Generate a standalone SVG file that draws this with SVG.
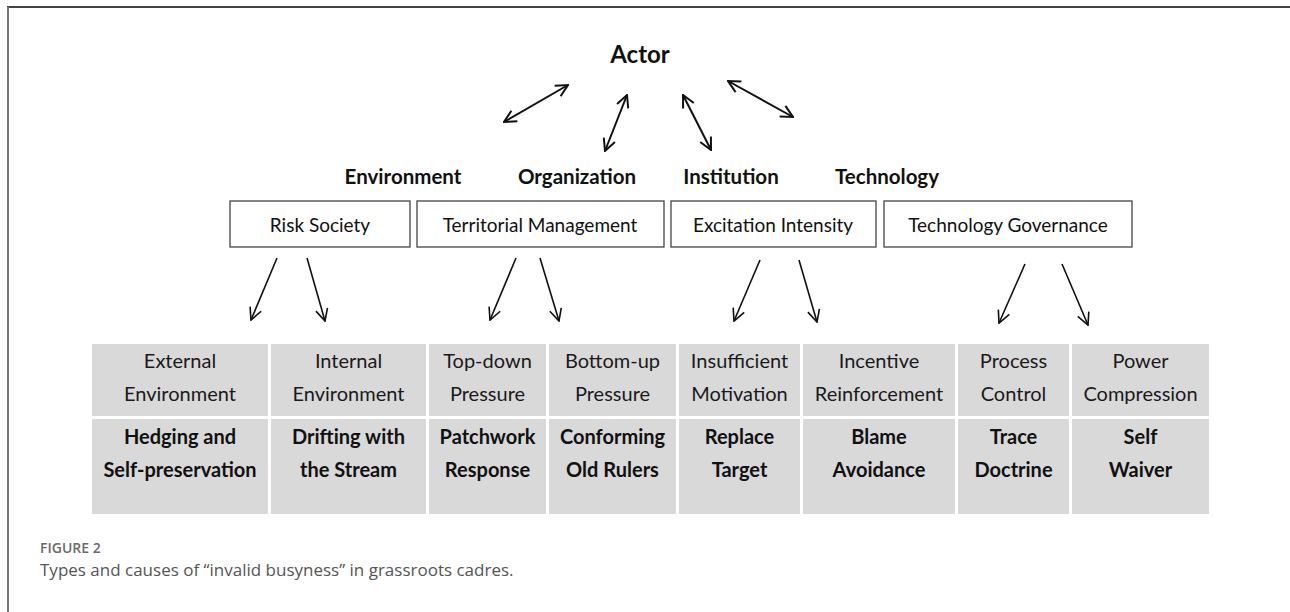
<svg xmlns="http://www.w3.org/2000/svg" width="1290" height="612" viewBox="0 0 1290 612">
<style>
.lbl{font-family:Lato,"Liberation Sans",sans-serif;fill:#111}
.b{font-weight:bold}
.box{fill:#fff;stroke:#444;stroke-width:1.3}
.cell{fill:#d9d9d9}
.t{font-family:Lato,"Liberation Sans",sans-serif;font-size:20px;fill:#1a1a1a;text-anchor:middle}
.tb{font-family:Lato,"Liberation Sans",sans-serif;font-size:20px;font-weight:bold;fill:#111;text-anchor:middle}
.con line{stroke:#111;fill:none}
.top line{stroke-width:2}
.down line{stroke-width:1.6}
.cap{font-family:"Open Sans","Liberation Sans",sans-serif}
</style>
<defs>
<marker id="ah" viewBox="0 0 14 14" refX="13" refY="7" markerWidth="14" markerHeight="14" markerUnits="userSpaceOnUse" orient="auto-start-reverse">
<path d="M1,1 L13,7 L1,13" fill="none" stroke="#111" stroke-width="2"/>
</marker>
<marker id="ah2" viewBox="0 0 14 14" refX="13" refY="7" markerWidth="14" markerHeight="14" markerUnits="userSpaceOnUse" orient="auto">
<path d="M1,1 L13,7 L1,13" fill="none" stroke="#111" stroke-width="1.6"/>
</marker>
</defs>
<rect width="1290" height="612" fill="#fff"/>
<line x1="7" y1="7" x2="1290" y2="7" stroke="#444" stroke-width="2"/>
<line x1="8" y1="7" x2="8" y2="612" stroke="#777" stroke-width="2"/>

<g id="actor"><text class="lbl b" x="640" y="63" font-size="24" text-anchor="middle">Actor</text></g>

<g id="dimension-labels" class="lbl b" font-size="20.5" text-anchor="middle">
<text x="403" y="184">Environment</text>
<text x="577" y="184">Organization</text>
<text x="731" y="184">Institution</text>
<text x="887" y="184">Technology</text>
</g>

<g id="risk-society"><rect class="box" x="230" y="201" width="180" height="46"/><text class="lbl" x="320" y="232" font-size="19" text-anchor="middle">Risk Society</text></g>
<g id="territorial-management"><rect class="box" x="417" y="201" width="247" height="46"/><text class="lbl" x="540" y="232" font-size="19" text-anchor="middle">Territorial Management</text></g>
<g id="excitation-intensity"><rect class="box" x="671" y="201" width="205" height="46"/><text class="lbl" x="773" y="232" font-size="19" text-anchor="middle">Excitation Intensity</text></g>
<g id="technology-governance"><rect class="box" x="884" y="201" width="248" height="46"/><text class="lbl" x="1008" y="232" font-size="19" text-anchor="middle">Technology Governance</text></g>

<g id="connectors" class="con">
<g class="top">
<line x1="504" y1="122" x2="568" y2="85" marker-start="url(#ah)" marker-end="url(#ah)"/>
<line x1="605" y1="151" x2="627" y2="95" marker-start="url(#ah)" marker-end="url(#ah)"/>
<line x1="683" y1="95" x2="711" y2="150" marker-start="url(#ah)" marker-end="url(#ah)"/>
<line x1="728" y1="81" x2="793" y2="117" marker-start="url(#ah)" marker-end="url(#ah)"/>
</g>
<g class="down">
<line x1="277" y1="258" x2="251" y2="320" marker-end="url(#ah2)"/>
<line x1="307" y1="258" x2="325" y2="321" marker-end="url(#ah2)"/>
<line x1="516" y1="258" x2="490" y2="320" marker-end="url(#ah2)"/>
<line x1="540" y1="258" x2="559" y2="321" marker-end="url(#ah2)"/>
<line x1="760" y1="260" x2="734" y2="321" marker-end="url(#ah2)"/>
<line x1="799" y1="260" x2="817" y2="322" marker-end="url(#ah2)"/>
<line x1="1025" y1="264" x2="999" y2="323" marker-end="url(#ah2)"/>
<line x1="1062" y1="264" x2="1088" y2="325" marker-end="url(#ah2)"/>
</g>
</g>

<g id="col-external">
<rect class="cell" x="92" y="344" width="176" height="72"/>
<rect class="cell" x="92" y="419" width="176" height="95"/>
<text class="t" x="180" y="368">External</text><text class="t" x="180" y="401">Environment</text>
<text class="tb" x="180" y="444">Hedging and</text><text class="tb" x="180" y="477">Self-preservation</text>
</g>
<g id="col-internal">
<rect class="cell" x="271" y="344" width="155" height="72"/>
<rect class="cell" x="271" y="419" width="155" height="95"/>
<text class="t" x="348.5" y="368">Internal</text><text class="t" x="348.5" y="401">Environment</text>
<text class="tb" x="348.5" y="444">Drifting with</text><text class="tb" x="348.5" y="477">the Stream</text>
</g>
<g id="col-topdown">
<rect class="cell" x="429" y="344" width="117" height="72"/>
<rect class="cell" x="429" y="419" width="117" height="95"/>
<text class="t" x="487.5" y="368">Top-down</text><text class="t" x="487.5" y="401">Pressure</text>
<text class="tb" x="487.5" y="444">Patchwork</text><text class="tb" x="487.5" y="477">Response</text>
</g>
<g id="col-bottomup">
<rect class="cell" x="549" y="344" width="127" height="72"/>
<rect class="cell" x="549" y="419" width="127" height="95"/>
<text class="t" x="612.5" y="368">Bottom-up</text><text class="t" x="612.5" y="401">Pressure</text>
<text class="tb" x="612.5" y="444">Conforming</text><text class="tb" x="612.5" y="477">Old Rulers</text>
</g>
<g id="col-insufficient">
<rect class="cell" x="679" y="344" width="121" height="72"/>
<rect class="cell" x="679" y="419" width="121" height="95"/>
<text class="t" x="739.5" y="368">Insufficient</text><text class="t" x="739.5" y="401">Motivation</text>
<text class="tb" x="739.5" y="444">Replace</text><text class="tb" x="739.5" y="477">Target</text>
</g>
<g id="col-incentive">
<rect class="cell" x="803" y="344" width="152" height="72"/>
<rect class="cell" x="803" y="419" width="152" height="95"/>
<text class="t" x="879" y="368">Incentive</text><text class="t" x="879" y="401">Reinforcement</text>
<text class="tb" x="879" y="444">Blame</text><text class="tb" x="879" y="477">Avoidance</text>
</g>
<g id="col-process">
<rect class="cell" x="958" y="344" width="111" height="72"/>
<rect class="cell" x="958" y="419" width="111" height="95"/>
<text class="t" x="1013.5" y="368">Process</text><text class="t" x="1013.5" y="401">Control</text>
<text class="tb" x="1013.5" y="444">Trace</text><text class="tb" x="1013.5" y="477">Doctrine</text>
</g>
<g id="col-power">
<rect class="cell" x="1072" y="344" width="137" height="72"/>
<rect class="cell" x="1072" y="419" width="137" height="95"/>
<text class="t" x="1140.5" y="368">Power</text><text class="t" x="1140.5" y="401">Compression</text>
<text class="tb" x="1140.5" y="444">Self</text><text class="tb" x="1140.5" y="477">Waiver</text>
</g>

<g id="caption">
<text class="cap" x="40" y="553" font-size="14" font-weight="600" fill="#6a6a6a">FIGURE 2</text>
<text class="cap" x="40" y="576" font-size="17" fill="#555">Types and causes of “invalid busyness” in grassroots cadres.</text>
</g>
</svg>
